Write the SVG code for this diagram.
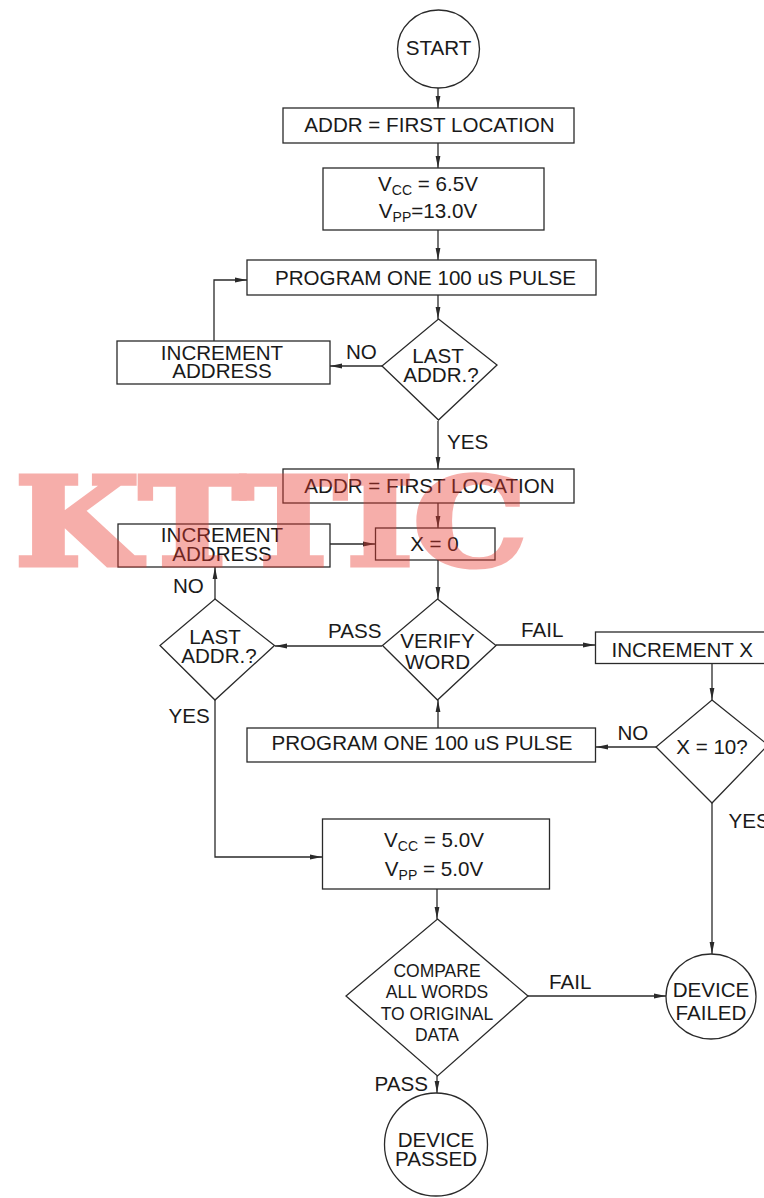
<svg xmlns="http://www.w3.org/2000/svg" width="764" height="1198" viewBox="0 0 764 1198">
<defs>
<style>
.s{fill:none;stroke:#2a2a2a;stroke-width:1.3}
.n{fill:#fff;stroke:#2a2a2a;stroke-width:1.3}
.t{font-family:"Liberation Sans",Arial,Helvetica,sans-serif;font-size:20.6px;fill:#1a1a1a}
.m{text-anchor:middle}
.sm{font-size:17.5px}
.sub{font-size:14px}
.wm{font-family:"DejaVu Serif","Liberation Serif",serif;font-weight:bold;font-size:122px;fill:#eb372d;stroke:#eb372d;stroke-width:5;opacity:0.4}
</style>
<marker id="a" viewBox="0 0 12 6" refX="12" refY="3" markerWidth="12" markerHeight="6" markerUnits="userSpaceOnUse" orient="auto">
<path d="M0,0.6 L12,3 L0,5.4 Z" fill="#2a2a2a"/>
</marker>
</defs>
<rect width="764" height="1198" fill="#fff"/>

<g id="connectors" class="s" marker-end="url(#a)">
<path d="M438,88 V108"/>
<path d="M438,143 V168"/>
<path d="M438,230 V260"/>
<path d="M438,295 V319"/>
<path d="M382,366 H330"/>
<path d="M214,341 V280 H247"/>
<path d="M438,421 V469"/>
<path d="M438,503 V528"/>
<path d="M330,544 H375"/>
<path d="M438,560 V599"/>
<path d="M382,646 H275"/>
<path d="M215,599 V567"/>
<path d="M215,700 V857 H322"/>
<path d="M496,645 H595"/>
<path d="M712,664 V700"/>
<path d="M656,747 H596"/>
<path d="M438,728 V700"/>
<path d="M712,803 V954"/>
<path d="M437,889 V919"/>
<path d="M528,996 H666"/>
<path d="M437,1076 V1093"/>
</g>

<g id="start"><ellipse class="n" cx="438.5" cy="49" rx="41" ry="39"/><text class="t m" x="438.5" y="55">START</text></g>

<g id="addr1"><rect class="n" x="283" y="108" width="291" height="35"/><text class="t m" x="429.5" y="132">ADDR = FIRST LOCATION</text></g>

<g id="vcc1"><rect class="n" x="323" y="168" width="221" height="62"/>
<text class="t m" x="428" y="191">V<tspan class="sub" dy="4">CC</tspan><tspan dy="-4"> = 6.5V</tspan></text>
<text class="t m" x="428" y="218">V<tspan class="sub" dy="4">PP</tspan><tspan dy="-4">=13.0V</tspan></text></g>

<g id="prog1"><rect class="n" x="247" y="260" width="349" height="35"/><text class="t m" x="425.5" y="285">PROGRAM ONE 100 uS PULSE</text></g>

<g id="last1"><polygon class="n" points="438.5,319 497,365 438.5,420 382,366"/>
<text class="t m" x="438" y="363">LAST</text><text class="t m" x="441" y="382">ADDR.?</text></g>

<g id="incaddr1"><rect class="n" x="117" y="341" width="213" height="43"/>
<text class="t m" x="222" y="360">INCREMENT</text><text class="t m" x="222" y="378">ADDRESS</text></g>

<g id="addr2"><rect class="n" x="283" y="469" width="291" height="34"/><text class="t m" x="429.5" y="493">ADDR = FIRST LOCATION</text></g>

<g id="incaddr2"><rect class="n" x="118" y="524" width="212" height="43"/>
<text class="t m" x="222" y="542">INCREMENT</text><text class="t m" x="222" y="561">ADDRESS</text></g>

<g id="x0"><rect class="n" x="375.5" y="528" width="119.5" height="32"/><text class="t m" x="434.5" y="551">X = 0</text></g>

<g id="verify"><polygon class="n" points="437.5,599 496,645.5 437.5,700 382.5,645.5"/>
<text class="t m" x="437.5" y="648">VERIFY</text><text class="t m" x="437.5" y="669">WORD</text></g>

<g id="last2"><polygon class="n" points="215,599 274.5,645.5 215,700 160,645.5"/>
<text class="t m" x="215" y="644">LAST</text><text class="t m" x="219" y="663">ADDR.?</text></g>

<g id="incx"><rect class="n" x="595.5" y="632" width="180" height="31.5"/><text class="t" x="611.5" y="657">INCREMENT X</text></g>

<g id="x10"><polygon class="n" points="712,700 768,745 712,803 656,747"/><text class="t m" x="712" y="754">X = 10?</text></g>

<g id="prog2"><rect class="n" x="247" y="728" width="348.5" height="34"/><text class="t m" x="422" y="750">PROGRAM ONE 100 uS PULSE</text></g>

<g id="vcc2"><rect class="n" x="322.5" y="819" width="227" height="70"/>
<text class="t m" x="434" y="847">V<tspan class="sub" dy="4">CC</tspan><tspan dy="-4"> = 5.0V</tspan></text>
<text class="t m" x="434" y="876">V<tspan class="sub" dy="4">PP</tspan><tspan dy="-4"> = 5.0V</tspan></text></g>

<g id="compare"><polygon class="n" points="437.5,919 528,996 437.5,1076 346,996"/>
<text class="t m sm" x="437" y="977">COMPARE</text><text class="t m sm" x="437" y="998">ALL WORDS</text>
<text class="t m sm" x="437" y="1020">TO ORIGINAL</text><text class="t m sm" x="437" y="1041">DATA</text></g>

<g id="failed"><ellipse class="n" cx="711" cy="996.5" rx="45" ry="42.5"/>
<text class="t m" x="711" y="997">DEVICE</text><text class="t m" x="711" y="1020">FAILED</text></g>

<g id="passed"><ellipse class="n" cx="436" cy="1144.5" rx="51.5" ry="51.5"/>
<text class="t m" x="436" y="1147">DEVICE</text><text class="t m" x="436" y="1166">PASSED</text></g>

<g id="labels">
<text class="t" x="346" y="359">NO</text>
<text class="t" x="447" y="449">YES</text>
<text class="t" x="173" y="593">NO</text>
<text class="t" x="328" y="638">PASS</text>
<text class="t" x="521" y="637">FAIL</text>
<text class="t" x="168.5" y="723">YES</text>
<text class="t" x="617.5" y="740">NO</text>
<text class="t" x="728.5" y="828">YES</text>
<text class="t" x="549" y="989">FAIL</text>
<text class="t" x="374.5" y="1091">PASS</text>
</g>

<text class="wm" x="15" y="565" textLength="512" lengthAdjust="spacingAndGlyphs">KTTIC</text>
</svg>
